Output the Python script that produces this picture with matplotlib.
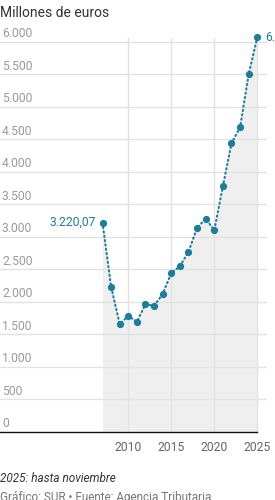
import numpy as np
import matplotlib
matplotlib.use('Agg')
import matplotlib.pyplot as plt
import matplotlib.transforms as mtransforms

plt.rcParams['font.family'] = ['Roboto', 'DejaVu Sans']

# Recaudación (millones de euros), 2025 hasta noviembre
years = [2007, 2008, 2009, 2010, 2011, 2012, 2013, 2014, 2015, 2016,
         2017, 2018, 2019, 2020, 2021, 2022, 2023, 2024, 2025]
values = [3220.07, 2235, 1662, 1785, 1697, 1965, 1943, 2123, 2446, 2549,
          2774, 3138, 3282, 3103, 3780, 4441, 4687, 5503, 6072.35]

ytick_vals = [0, 500, 1000, 1500, 2000, 2500, 3000, 3500, 4000, 4500, 5000, 5500, 6000]
ytick_labels = ['0', '500', '1.000', '1.500', '2.000', '2.500', '3.000', '3.500',
                '4.000', '4.500', '5.000', '5.500', '6.000']
xtick_vals = [2010, 2015, 2020, 2025]

first_label = '3.220,07'
last_label = '6.072,35'

teal = '#1d7d9c'
grid_c = '#e2e2e2'

fig = plt.figure(figsize=(2.75, 5.0), dpi=100)
ax = fig.add_axes([0.0, 1 - 432/500, 267/275, (432 - 38)/500])

ax.set_xlim(1995.08, 2026.13)
ax.set_ylim(0, 6060)

for s in ax.spines.values():
    s.set_visible(False)

# grid
for v in ytick_vals[1:]:
    ax.axhline(v, color=grid_c, lw=1.0, zorder=1)
for x in xtick_vals:
    ax.axvline(x, color=grid_c, lw=1.0, zorder=1)

# baseline
ax.plot([1995.08, 2025], [0, 0], color='#111111', lw=1.0, zorder=4, clip_on=False)

# area
ax.fill_between(years, values, 0, color='#efefef', lw=0, zorder=0)

# line + dots
ax.plot(years, values, color=teal, lw=1.5, ls=(0, (0.6, 1.5)),
        dash_capstyle='round', zorder=5, clip_on=False)
ax.plot(years, values, 'o', color=teal, ms=4.2, zorder=6, clip_on=False)

# y labels above the gridlines
trans = mtransforms.blended_transform_factory(ax.transAxes, ax.transData)
off = mtransforms.offset_copy(trans, fig=fig, x=0, y=3.3, units='points')
for v, lab in zip(ytick_vals, ytick_labels):
    ax.text(2/267, v, lab, transform=off, ha='left', va='baseline',
            fontsize=8.7, color='#9a9a9a')

ax.set_yticks([])
ax.set_xticks(xtick_vals)
ax.set_xticklabels([str(x) for x in xtick_vals])
ax.tick_params(axis='x', length=0, pad=6.5, labelsize=8.7, labelcolor='#666666')

# end labels
ax.annotate(first_label, (years[0], values[0]), xytext=(-5, 0),
            textcoords='offset points', ha='right', va='center',
            fontsize=8.7, color=teal)
ax.annotate(last_label, (years[-1], values[-1]), xytext=(5.5, 0),
            textcoords='offset points', ha='left', va='center',
            fontsize=8.7, color=teal, annotation_clip=False)

# titles / notes
fig.text(0.0, 1 - 13/500, 'Millones de euros', ha='left', va='center',
         fontsize=10, color='#333333')
fig.text(0.0, 1 - 479/500, '2025: hasta noviembre', ha='left', va='center',
         fontsize=8.5, color='#333333', style='italic')
fig.text(0.0, 1 - 498/500, 'Gráfico: SUR • Fuente: Agencia Tributaria',
         ha='left', va='center', fontsize=8.5, color='#777777')

fig.savefig('out.png', dpi=100)
